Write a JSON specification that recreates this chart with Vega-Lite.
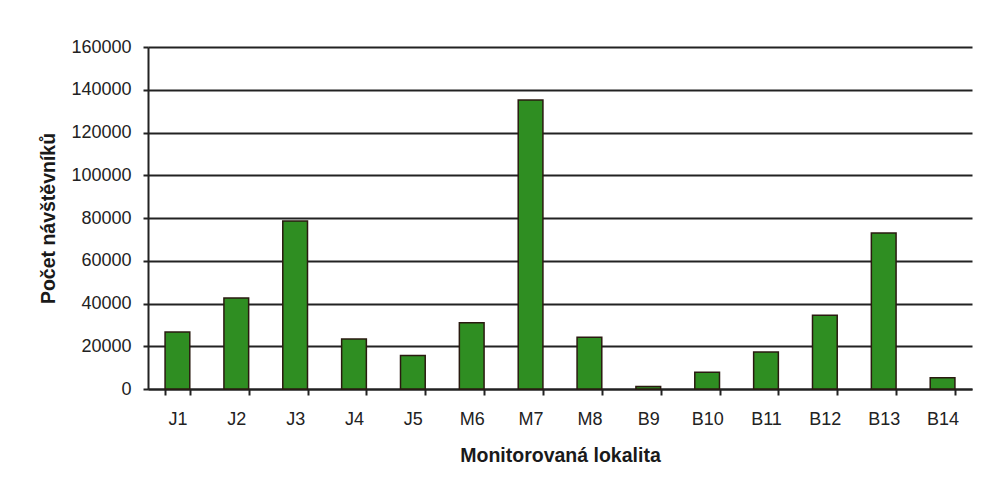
{
  "$schema": "https://vega.github.io/schema/vega-lite/v6.json",
  "autosize": "none",
  "width": 824,
  "height": 342,
  "padding": {"left": 148, "top": 47, "right": 9, "bottom": 100},
  "background": "white",
  "config": {
    "view": {"stroke": null},
    "font": "Liberation Sans"
  },
  "data": {
    "values": [
      {"lokalita": "J1", "pocet": 26700},
      {"lokalita": "J2", "pocet": 42600},
      {"lokalita": "J3", "pocet": 78600},
      {"lokalita": "J4", "pocet": 23400},
      {"lokalita": "J5", "pocet": 15700},
      {"lokalita": "M6", "pocet": 31000},
      {"lokalita": "M7", "pocet": 135200},
      {"lokalita": "M8", "pocet": 24200},
      {"lokalita": "B9", "pocet": 1200},
      {"lokalita": "B10", "pocet": 7800},
      {"lokalita": "B11", "pocet": 17300},
      {"lokalita": "B12", "pocet": 34500},
      {"lokalita": "B13", "pocet": 73000},
      {"lokalita": "B14", "pocet": 5300}
    ]
  },
  "mark": {"type": "bar", "color": "#2f8e22", "stroke": "#2a1a10", "strokeWidth": 1.5},
  "encoding": {
    "x": {
      "field": "lokalita",
      "type": "nominal",
      "sort": null,
      "scale": {"paddingInner": 0.58, "paddingOuter": 0.29},
      "axis": {
        "title": "Monitorovaná lokalita",
        "titleFont": "Liberation Sans",
        "titleFontSize": 19.5,
        "titleFontWeight": "bold",
        "titleColor": "#1a1a1a",
        "titlePadding": 18,
        "labelAngle": 0,
        "labelFontSize": 18,
        "labelColor": "#222222",
        "labelPadding": 15,
        "tickBand": "extent",
        "tickSize": 6,
        "tickWidth": 2,
        "tickColor": "#222222",
        "domainColor": "#222222",
        "domainWidth": 2,
        "grid": false
      }
    },
    "y": {
      "field": "pocet",
      "type": "quantitative",
      "scale": {"domain": [0, 160000], "nice": false},
      "axis": {
        "title": "Počet návštěvníků",
        "titleFont": "Liberation Sans",
        "titleFontSize": 19.5,
        "titleFontWeight": "bold",
        "titleColor": "#1a1a1a",
        "titlePadding": 12,
        "values": [0, 20000, 40000, 60000, 80000, 100000, 120000, 140000, 160000],
        "format": "d",
        "labelFontSize": 18,
        "labelColor": "#222222",
        "labelPadding": 12,
        "tickSize": 5,
        "tickWidth": 2,
        "tickColor": "#222222",
        "domainColor": "#222222",
        "domainWidth": 2,
        "grid": true,
        "gridColor": "#222222",
        "gridWidth": 2,
        "gridOpacity": 1
      }
    }
  }
}
